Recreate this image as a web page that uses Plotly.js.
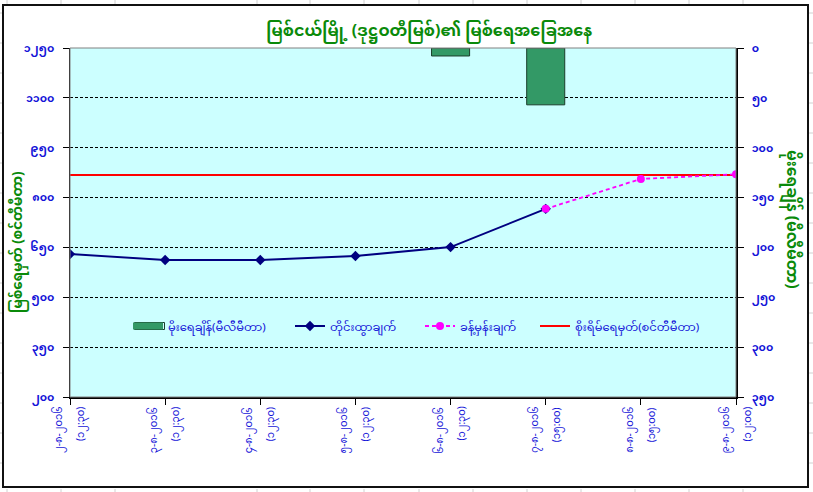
<!DOCTYPE html>
<html>
<head>
<meta charset="utf-8">
<script src="https://cdn.plot.ly/plotly-3.0.1.min.js"></script>
<style>html,body{margin:0;padding:0;background:#fff;}#chart{width:813px;height:492px;}</style>
</head>
<body>
<div id="chart"></div>
<script>
// ---------- data ----------
const dateLabels = ["၂-၈-၂၀၁၆", "၃-၈-၂၀၁၆", "၄-၈-၂၀၁၆", "၅-၈-၂၀၁၆", "၆-၈-၂၀၁၆", "၇-၈-၂၀၁၆", "၈-၈-၂၀၁၆", "၉-၈-၂၀၁၆"];
const timeLabels = ["(၁၂:၃၀)", "(၁၂:၃၀)", "(၁၂:၃၀)", "(၁၂:၃၀)", "(၁၂:၃၀)", "(၁၅:၀၀)", "(၁၅:၀၀)", "(၁၂:၀၀)"];
const categoryIndex = [0, 1, 2, 3, 4, 5, 6, 7];
const rainfallMM   = [null, null, null, null, 8, 57, null, null];
const observedCM   = [630, 612, 612, 624, 651, 766, null, null];
const forecastCM   = [null, null, null, null, null, 766, 856, 870];
const dangerCM     = [868, 868, 868, 868, 868, 868, 868, 868];

const leftTickVals  = [200, 350, 500, 650, 800, 950, 1100, 1250];
const leftTickText  = ["၂၀၀", "၃၅၀", "၅၀၀", "၆၅၀", "၈၀၀", "၉၅၀", "၁၁၀၀", "၁၂၅၀"];
const rightTickVals = [0, 50, 100, 150, 200, 250, 300, 350];
const rightTickText = ["၀", "၅၀", "၁၀၀", "၁၅၀", "၂၀၀", "၂၅၀", "၃၀၀", "၃၅၀"];

const titleText      = "မြစ်ငယ်မြို့ (ဒုဋ္ဌဝတီမြစ်)၏ မြစ်ရေအခြေအနေ";
const leftAxisTitle  = "မြစ်ရေမှတ် (စင်တီမီတာ)";
const rightAxisTitle = "မိုးရေချိန် (မီလီမီတာ)";
const seriesNames = ["မိုးရေချိန်(မီလီမီတာ)", "တိုင်းထွာချက်", "ခန့်မှန်းချက်", "စိုးရိမ်ရေမှတ်(စင်တီမီတာ)"];

// ---------- styles ----------
const FONT = "'Noto Sans Myanmar', 'Padauk', 'Myanmar Text', 'Noto Sans', 'DejaVu Sans', sans-serif";
const BLUE = "#1414d8";
const GREEN = "#0a8a0a";
const BAR_GREEN = "#339966";

const PL = 70, PR = 736, PT = 48, PB = 397;
const px = v => (v - PL) / (PR - PL);
const py = v => (PB - v) / (PB - PT);

const traces = [
  {
    type: "bar", x: categoryIndex, y: rainfallMM, yaxis: "y2", name: seriesNames[0],
    width: 0.4, marker: {color: BAR_GREEN, line: {color: "#1b3d2a", width: 1}},
    showlegend: false, hoverinfo: "skip"
  },
  { // legend key for the rainfall bars (wide rectangle like the original)
    type: "scatter", mode: "lines", x: [null], y: [null], yaxis: "y2", name: seriesNames[0],
    line: {color: BAR_GREEN, width: 7}, legend: "legend", hoverinfo: "skip"
  },
  {
    type: "scatter", mode: "lines", x: categoryIndex, y: dangerCM, name: seriesNames[3],
    line: {color: "#ff0000", width: 2}, legend: "legend4", hoverinfo: "skip"
  },
  {
    type: "scatter", mode: "lines+markers", x: categoryIndex, y: observedCM, name: seriesNames[1],
    line: {color: "#000080", width: 2}, marker: {symbol: "diamond", size: 8, color: "#000080"},
    legend: "legend2", hoverinfo: "skip"
  },
  {
    type: "scatter", mode: "lines+markers", x: categoryIndex, y: forecastCM, name: seriesNames[2],
    line: {color: "#ff00ff", width: 1.8, dash: "4px,3px"}, marker: {symbol: "circle", size: 8, color: "#ff00ff"},
    legend: "legend3", hoverinfo: "skip"
  }
];

// decorative sheet gridlines and chart border
const shapes = [];
const colLines = [7, 61, 115, 257, 310, 364, 419, 473, 527, 581, 635, 689, 743];
colLines.forEach(c => {
  shapes.push({type: "line", xref: "paper", yref: "paper", x0: px(c), x1: px(c), y0: py(0), y1: py(4), line: {color: "#d0d0d0", width: 1}, layer: "below"});
  shapes.push({type: "line", xref: "paper", yref: "paper", x0: px(c), x1: px(c), y0: py(489), y1: py(492), line: {color: "#d0d0d0", width: 1}, layer: "below"});
});
const rowLines = [13, 43, 73, 103, 133, 163, 193, 223, 253, 283, 313, 343, 373, 403, 433, 463];
rowLines.forEach(r => {
  shapes.push({type: "line", xref: "paper", yref: "paper", x0: px(0), x1: px(2), y0: py(r), y1: py(r), line: {color: "#d0d0d0", width: 1}, layer: "below"});
  shapes.push({type: "line", xref: "paper", yref: "paper", x0: px(809), x1: px(813), y0: py(r), y1: py(r), line: {color: "#d0d0d0", width: 1}, layer: "below"});
});
shapes.push({type: "rect", xref: "paper", yref: "paper", x0: px(3), x1: px(808), y0: py(487), y1: py(5), line: {color: "#111", width: 2}, layer: "below"});
shapes.push({type: "rect", xref: "paper", yref: "paper", x0: 0, x1: 1, y0: 0, y1: 1, line: {color: "#808080", width: 1}, layer: "above"});
// dark outline of the rainfall legend key
shapes.push({type: "rect", xref: "paper", yref: "paper", x0: px(134.5), x1: px(164.5), y0: py(329.5), y1: py(322.5), line: {color: "#1b3d2a", width: 1}, layer: "above"});

// annotations: two-line rotated category labels and axis titles
const annotations = [];
const tickFont = {family: FONT, color: BLUE, size: 10};
categoryIndex.forEach((c, i) => {
  annotations.push({x: c, xref: "x", y: py(405), yref: "paper", xshift: -10, xanchor: "center", yanchor: "top",
    textangle: -90, text: dateLabels[i], showarrow: false, font: tickFont});
  annotations.push({x: c, xref: "x", y: py(405), yref: "paper", xshift: 12, xanchor: "center", yanchor: "top",
    textangle: -90, text: timeLabels[i], showarrow: false, font: tickFont});
});
annotations.push({x: px(19), xref: "paper", y: py(242), yref: "paper", xanchor: "center", yanchor: "middle",
  textangle: -90, text: "<b>" + leftAxisTitle + "</b>", showarrow: false, font: {family: FONT, color: GREEN, size: 13.5}});
annotations.push({x: px(791), xref: "paper", y: py(219), yref: "paper", xanchor: "center", yanchor: "middle",
  textangle: 90, text: "<b>" + rightAxisTitle + "</b>", showarrow: false, font: {family: FONT, color: GREEN, size: 15.5}});

const legendBase = {orientation: "h", y: py(326), yanchor: "middle", xanchor: "left",
  bgcolor: "rgba(0,0,0,0)", borderwidth: 0, font: {family: FONT, color: BLUE, size: 11.5}, itemwidth: 30};

const layout = {
  width: 813, height: 492,
  margin: {l: PL, r: 813 - PR, t: PT, b: 492 - PB, pad: 0},
  paper_bgcolor: "#ffffff", plot_bgcolor: "#ccffff",
  font: {family: FONT, color: BLUE, size: 12},
  showlegend: true,
  title: {
    text: "<b>" + titleText + "</b>", x: 0.528, xanchor: "center", xref: "container",
    y: 1 - 30 / 492, yanchor: "middle", yref: "container",
    font: {family: FONT, size: 16, color: GREEN}
  },
  xaxis: {
    range: [0, 7], tickmode: "array", tickvals: categoryIndex, showticklabels: false,
    ticks: "outside", ticklen: 6, tickcolor: "#000", tickwidth: 1,
    showline: true, linecolor: "#000", linewidth: 1.5, showgrid: false, zeroline: false, fixedrange: true
  },
  yaxis: {
    range: [200, 1250], tickmode: "array", tickvals: leftTickVals, ticktext: leftTickText,
    ticks: "outside", ticklen: 6, tickcolor: "#000", showline: true, linecolor: "#000", linewidth: 1.5,
    showgrid: true, gridcolor: "#000", gridwidth: 1, griddash: "3px,2px", zeroline: false,
    tickfont: {family: FONT, color: BLUE, size: 11, weight: "bold"}, ticklabelstandoff: 6,
    fixedrange: true
  },
  yaxis2: {
    overlaying: "y", side: "right", range: [350, 0], tickmode: "array",
    tickvals: rightTickVals, ticktext: rightTickText,
    ticks: "outside", ticklen: 6, tickcolor: "#000", showline: true, linecolor: "#000", linewidth: 1.5,
    showgrid: false, zeroline: false,
    tickfont: {family: FONT, color: BLUE, size: 11, weight: "bold"}, ticklabelstandoff: 6,
    fixedrange: true
  },
  legend:  Object.assign({}, legendBase, {x: px(128)}),
  legend2: Object.assign({}, legendBase, {x: px(290)}),
  legend3: Object.assign({}, legendBase, {x: px(420)}),
  legend4: Object.assign({}, legendBase, {x: px(535)}),
  shapes: shapes,
  annotations: annotations
};

Plotly.newPlot("chart", traces, layout, {displayModeBar: false, staticPlot: true});
</script>
</body>
</html>
